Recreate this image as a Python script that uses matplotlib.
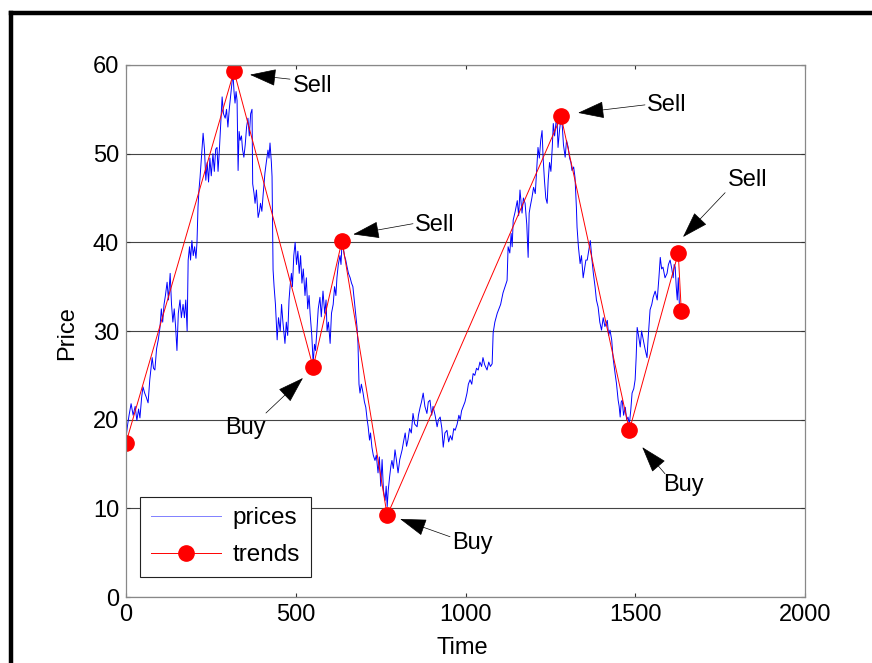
import matplotlib
matplotlib.use('Agg')
import matplotlib.pyplot as plt
from matplotlib.lines import Line2D

plt.rcParams['font.family'] = ['Liberation Sans', 'DejaVu Sans']

# price series (time, price)
time = [0, 5, 9, 15, 21, 27, 32, 37, 41, 46, 50, 55, 60, 65, 70, 77, 81, 85, 90, 95,
        100, 104, 108, 112, 116, 121, 125, 130, 134, 138, 142, 146, 150, 154, 159, 163, 168, 172, 176, 180,
        183, 187, 190, 194, 198, 202, 206, 209, 212, 215, 218, 222, 227, 231, 235, 239, 243, 247, 251, 256,
        260, 264, 268, 271, 275, 279, 283, 287, 292, 296, 300, 304, 308, 312, 315, 318, 321, 324, 327, 330,
        333, 336, 340, 343, 347, 351, 355, 359, 363, 367, 371, 373, 377, 380, 384, 389, 393, 396, 400, 404,
        409, 413, 418, 421, 424, 428, 430, 433, 436, 440, 445, 449, 454, 458, 462, 468, 472, 476, 480, 483,
        487, 490, 494, 498, 502, 506, 510, 514, 518, 522, 527, 531, 535, 539, 542, 547, 551, 555, 558, 562,
        566, 571, 575, 580, 585, 589, 592, 596, 601, 605, 610, 614, 618, 621, 625, 630, 633, 636, 639, 643,
        647, 651, 655, 660, 664, 668, 672, 676, 680, 683, 686, 689, 693, 698, 702, 706, 710, 713, 717, 720,
        724, 728, 733, 737, 742, 746, 750, 754, 758, 763, 766, 769, 772, 776, 780, 783, 787, 792, 796, 801,
        806, 813, 817, 822, 826, 830, 835, 840, 845, 850, 857, 861, 866, 870, 875, 880, 886, 890, 895, 900,
        904, 910, 916, 920, 925, 930, 934, 939, 945, 950, 955, 960, 965, 969, 975, 980, 984, 988, 992, 998,
        1004, 1008, 1013, 1018, 1022, 1027, 1032, 1037, 1042, 1047, 1051, 1056, 1063, 1068, 1073, 1078, 1081, 1086, 1093, 1098,
        1103, 1110, 1116, 1122, 1125, 1130, 1134, 1137, 1140, 1146, 1152, 1156, 1160, 1166, 1170, 1175, 1180, 1184, 1187, 1190,
        1195, 1200, 1205, 1209, 1213, 1217, 1221, 1225, 1228, 1232, 1236, 1240, 1243, 1247, 1251, 1255, 1258, 1262, 1266, 1269,
        1272, 1276, 1280, 1284, 1288, 1293, 1297, 1302, 1306, 1310, 1313, 1318, 1322, 1326, 1328, 1332, 1337, 1341, 1346, 1350,
        1354, 1358, 1362, 1367, 1372, 1376, 1381, 1385, 1390, 1395, 1400, 1405, 1410, 1417, 1421, 1425, 1430, 1434, 1440, 1444,
        1449, 1452, 1455, 1458, 1461, 1465, 1470, 1474, 1478, 1482, 1486, 1490, 1495, 1499, 1502, 1505, 1509, 1514, 1518, 1523,
        1528, 1534, 1537, 1543, 1548, 1552, 1558, 1564, 1569, 1573, 1577, 1581, 1587, 1593, 1597, 1602, 1607, 1611, 1614, 1617,
        1620, 1623, 1626, 1629, 1632]
prices = [18.0, 19.5, 20.5, 21.8, 20.5, 21.5, 19.9, 21.2, 20.2, 22.5, 23.7, 23.0, 22.5, 21.9, 24.5, 27.0, 25.8, 25.6, 28.0, 29.0,
          30.4, 32.5, 31.0, 33.0, 34.0, 35.5, 33.5, 36.5, 33.0, 31.0, 32.5, 30.5, 27.8, 32.0, 33.5, 31.5, 33.0, 31.5, 33.5, 30.0,
          38.0, 39.5, 38.0, 40.2, 38.5, 39.5, 38.2, 40.0, 44.0, 46.0, 47.3, 49.5, 52.3, 50.5, 47.0, 49.0, 46.8, 49.5, 47.5, 50.0,
          48.0, 50.5, 50.7, 48.0, 50.5, 53.5, 56.4, 54.5, 54.0, 55.0, 53.0, 55.0, 56.5, 58.0, 59.0, 57.0, 55.7, 57.0, 56.0, 48.1,
          52.5, 51.5, 52.0, 50.5, 49.6, 51.0, 53.0, 54.0, 52.0, 54.5, 55.0, 46.6, 45.5, 44.4, 45.9, 42.8, 43.5, 44.4, 43.5, 45.5,
          47.8, 49.0, 50.4, 49.5, 51.2, 49.0, 47.4, 36.9, 35.0, 33.0, 29.0, 31.5, 30.0, 33.0, 31.0, 28.6, 31.0, 29.5, 33.5, 35.0,
          36.5, 35.0, 38.5, 40.0, 37.5, 39.0, 36.5, 38.5, 35.4, 37.0, 34.0, 36.0, 32.5, 34.0, 32.0, 29.5, 26.4, 28.5, 27.8, 30.0,
          32.5, 33.8, 31.6, 34.5, 32.0, 33.5, 30.0, 31.0, 28.6, 32.0, 33.0, 35.0, 34.0, 36.0, 37.5, 38.5, 37.5, 40.0, 39.5, 38.5,
          38.0, 37.2, 36.5, 36.0, 35.4, 35.0, 33.5, 32.0, 30.5, 28.6, 24.0, 23.0, 24.0, 23.0, 22.0, 21.4, 20.0, 19.2, 17.7, 18.5,
          16.9, 16.0, 15.4, 16.0, 14.0, 15.8, 12.5, 15.5, 12.0, 10.9, 12.5, 10.2, 12.0, 13.5, 14.8, 15.4, 14.5, 16.6, 15.5, 14.0,
          15.5, 16.6, 17.5, 18.5, 17.0, 17.7, 19.0, 18.5, 20.7, 19.5, 19.2, 20.5, 21.4, 22.0, 23.0, 21.5, 20.7, 22.0, 22.2, 20.5,
          21.5, 20.5, 19.2, 20.0, 20.3, 19.0, 16.9, 18.5, 18.8, 17.5, 18.2, 17.7, 19.0, 18.8, 19.5, 20.5, 20.0, 21.0, 21.4, 22.0,
          23.0, 24.0, 24.5, 24.0, 25.2, 25.0, 25.8, 25.6, 26.5, 26.0, 27.0, 26.2, 25.6, 26.5, 26.0, 26.3, 29.8, 31.0, 32.0, 32.5,
          33.0, 34.3, 35.0, 35.7, 39.5, 38.8, 41.0, 39.5, 42.5, 43.5, 44.7, 43.0, 45.9, 43.3, 45.0, 44.4, 42.0, 38.3, 43.3, 44.0,
          45.0, 46.2, 45.5, 48.0, 50.7, 49.5, 51.5, 52.6, 49.6, 47.0, 45.0, 44.4, 47.0, 49.0, 48.0, 50.7, 53.4, 52.0, 53.5, 54.0,
          50.7, 52.5, 53.8, 53.4, 51.0, 49.6, 51.5, 50.7, 49.5, 49.0, 48.1, 48.5, 47.3, 44.0, 41.7, 39.5, 37.6, 38.5, 36.0, 37.0,
          38.0, 38.0, 39.0, 40.2, 38.0, 36.5, 35.0, 33.5, 32.7, 31.0, 30.1, 31.5, 30.5, 31.2, 29.5, 30.1, 29.0, 27.0, 25.2, 24.1,
          22.2, 21.5, 20.3, 22.0, 22.2, 20.5, 21.4, 20.0, 20.3, 19.5, 21.0, 23.0, 23.5, 24.5, 27.0, 30.4, 29.5, 28.2, 30.0, 29.0,
          28.0, 27.0, 29.0, 32.4, 33.0, 33.8, 34.5, 33.5, 36.0, 38.3, 37.0, 37.2, 36.0, 36.5, 37.5, 38.0, 37.0, 36.0, 37.5, 37.2,
          35.0, 33.5, 36.0, 33.2, 32.5]

# trend turning points
trend_t = [0, 318, 551, 636, 769, 1281, 1482, 1626, 1635]
trend_p = [17.4, 59.3, 25.9, 40.2, 9.2, 54.2, 18.8, 38.8, 32.2]

# annotations: label, text position, arrow tail, arrow tip
notes = [
    ('Sell', (492, 57.6), (483, 58.4), (365, 58.9)),
    ('Buy', (291, 19.1), (412, 20.75), (521, 24.7)),
    ('Sell', (851, 41.95), (845, 42.1), (669, 40.9)),
    ('Buy', (960, 6.1), (954, 6.8), (807, 8.8)),
    ('Sell', (1534, 55.5), (1528, 55.5), (1331, 54.6)),
    ('Buy', (1581, 12.6), (1587, 13.9), (1520, 16.9)),
    ('Sell', (1773, 47.0), (1764, 45.6), (1640, 40.6)),
]

fig = plt.figure(figsize=(8.72, 6.63), dpi=100)
ax = fig.add_axes([0.1445, 0.0995, 0.779, 0.8025])

ax.plot(time, prices, color='#0000ff', lw=0.7, label='prices')
ax.plot(trend_t, trend_p, color='#ff0000', lw=0.7, marker='o', markersize=11,
        markerfacecolor='#ff0000', markeredgecolor='#ff0000', label='trends')

for label, txt, tail, tip in notes:
    ax.annotate('', xy=tip, xytext=tail,
                arrowprops=dict(arrowstyle='-|>,head_length=1.7,head_width=0.55',
                                color='black', lw=0.5, mutation_scale=10,
                                shrinkA=0, shrinkB=0))
    ax.text(txt[0], txt[1], label, fontsize=17, ha='left', va='center')

ax.set_xlim(0, 2000)
ax.set_ylim(0, 60)
ax.set_xticks([0, 500, 1000, 1500, 2000])
ax.set_yticks([0, 10, 20, 30, 40, 50, 60])
ax.yaxis.grid(True, color='#444444', lw=0.8)
ax.set_axisbelow(True)
ax.tick_params(direction='in', length=3, top=True, right=True, labelsize=17,
               color='#333333', pad=5)
for s in ax.spines.values():
    s.set_color('#888888')
    s.set_linewidth(0.9)

ax.set_xlabel('Time', fontsize=17)
ax.set_ylabel('Price', fontsize=17)
ax.xaxis.set_label_coords(0.495, -0.096)
ax.xaxis.label.set_va('center')
ax.yaxis.set_label_coords(-0.087, 0.496)
ax.yaxis.label.set_va('center')

leg = ax.legend(loc='lower left', bbox_to_anchor=(0.0206, 0.0376), borderaxespad=0,
                fontsize=17.5, fancybox=False, framealpha=1, handlelength=2.9,
                handletextpad=0.45, labelspacing=0.6, borderpad=0.45)
leg.get_frame().set_edgecolor('#222222')
leg.get_frame().set_linewidth(0.8)
leg.get_lines()[0].set_color('#8080ff')

# thick black frame (top and left visible)
fig.add_artist(Line2D([10.5 / 872, 1.0], [1 - 12.5 / 663, 1 - 12.5 / 663],
                      color='black', lw=3.2, transform=fig.transFigure))
fig.add_artist(Line2D([10.5 / 872, 10.5 / 872], [0, 1 - 12.5 / 663],
                      color='black', lw=3.2, transform=fig.transFigure))

fig.savefig('out.png', dpi=100)
